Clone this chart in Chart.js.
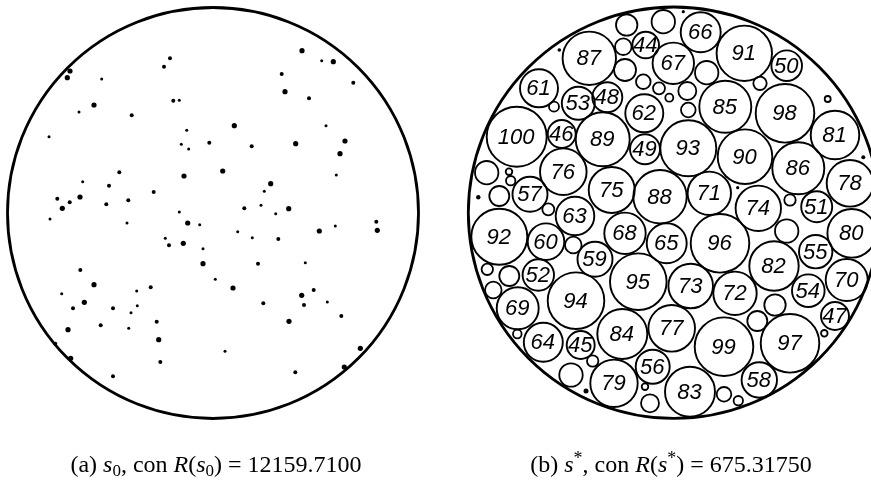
<!DOCTYPE html>
<html><head><meta charset="utf-8">
<script src="https://cdn.jsdelivr.net/npm/chart.js@4"></script>
<style>html,body{margin:0;padding:0;background:#fff}#wrap{width:871px;height:489px;position:relative}</style>
</head><body><div id="wrap"><canvas id="c"></canvas></div>
<script>
// Container circles (a) and (b)
const containerX = [213, 674];
const containerY = [213, 212.7];
const containerR = [205.5, 205.7];

// (a) initial solution s0: tiny circles
const dotX = [302,321.7,333.3,170,164,70,67.3,101.7,281.7,353.3,285,309,173.3,179.3,94,79,131.7,234.3,326,49,186.7,209.3,181.3,188.7,251.7,295.7,345,340,119.3,184,222.7,336.3,82.7,109,270.7,153.7,264.3,57.3,69.7,80,62.3,106.3,128.3,50,179.3,244.3,261,275.7,288.7,127,187.7,199.7,376.3,377.3,319.3,335.3,237.7,165.3,169,183.3,252.3,278.3,203,203,258,305.3,80.3,94,150.7,233,215.3,61.7,136.7,301.7,313.7,84.3,73,137.3,113,263.3,304,327.3,131,156.7,289,341.3,100.7,68,128.7,158.7,55.3,70.7,360.3,225,160.3,344.3,113,295.3];
const dotY = [50.7,60.7,61.7,58.3,66.7,71,77.7,79,74,82.7,91.7,98.3,100.7,100.3,105,112,115.3,125.7,125.7,136.7,130.3,142.7,144.3,149,146.3,143.7,141,153.7,172.3,176,171,175,181.7,185.7,183.7,192,191.3,198.7,202.3,197,208.3,204.3,200.3,219,212,208.3,205.3,213.7,208.7,223,223,224.7,221.7,230.3,231,226,231.7,238.3,245.3,243.3,237.7,239,248.7,263.7,263.7,262.7,270,284.7,287.3,288,279.3,293.7,291,295.3,290,302.3,308.3,305.7,308.3,303.3,305,302,312.7,321.7,321.3,316,325.3,329.7,328.3,339.7,343.7,358.3,348.3,351.3,362,367,376.3,372.3];
const dotR = [2.6,1.5,2.6,2,2,2.6,2.6,1.5,2,2,2.6,2,2,1.5,2.6,1.5,2,2.6,1.5,1.5,1.5,2,1.5,1.5,2,2.6,2.6,2.6,2,2.6,2.6,1.5,1.5,2,2.6,2,1.5,2,2,2.6,2.6,2,2,1.5,1.5,2,1.5,1.5,2.6,1.5,2.6,1.5,2,2.6,2.6,1.5,1.5,1.5,2,2.6,1.5,2,1.5,2.6,2,1.5,2,2.6,2,2.6,1.5,1.5,1.5,2.6,2,2.6,2,1.5,2,2,2,1.5,1.5,2,2.6,2,2,2.6,1.5,2.6,2,2.6,2.6,1.5,2,2.6,2,2];

// (b) final solution s*: numbered circles
const circleLabels = [44,45,46,47,48,49,50,51,52,53,54,55,56,57,58,59,60,61,62,63,64,65,66,67,68,69,70,71,72,73,74,75,76,77,78,79,80,81,82,83,84,85,86,87,88,89,90,91,92,93,94,95,96,97,98,99,100];
const circleX = [645.7,580.7,561.7,835,607.3,645,786.7,816.7,538.3,578.3,808.3,815.7,652.7,530,759.3,595,546,539,644.3,575,543.3,666.7,700.7,673.3,625,517.7,846.7,709.3,735,690.7,758.3,611.7,563.3,671.7,850,614,851.7,835,774,690,622.3,725.3,798.3,589.3,660,602.7,745,744.3,499.3,688.3,576,638.3,720,790,785,724,516.7];
const circleY = [45,345,134,316,97.3,149.3,65.7,206.7,275,103.3,290.7,251.7,366.7,194.3,380,259.3,241.7,88.3,113.3,216,342.3,243.3,32.3,63.3,233.3,308.3,280,193.3,293.3,286,208.3,190,171.7,328.3,183.3,383.3,233.3,135,266,391.7,334,106.7,168.3,58.3,196.7,139.3,156.7,53.3,236.7,148.3,300.7,281.7,243.3,343.3,113.3,346.7,136.7];
const circleR = [13.3,14,14,14,15,15,15.3,15.5,15.7,16.5,16.3,16.7,17,17.5,17.7,17.5,18.3,19,19,19.3,19.5,20,20,20.7,20.7,21,21,21.7,21.7,22.3,22.7,23,23.3,23.3,23.3,23.7,24.3,24.3,24.7,25,25,26,26,26.7,26.7,27,27.3,27.7,28,28,28.3,28.3,29.3,29.3,29.3,29.3,30];

// (b) unnumbered small circles
const smallX = [663.3,626.7,623.3,625,643.3,659,669.3,554,486.7,509,510.7,499.3,548.3,706.7,687.3,760,688.3,827.7,790,573.3,487.3,509.3,493.3,517.3,592.7,571,645,650,786.7,775,757.3,824.3,724,738.3];
const smallY = [21.7,25,46.7,70,81.7,88.3,97.7,106.7,172.7,171.7,180.7,196,209.3,72.7,91,83.3,110,99,200,245,269.3,276,290,334,361,375,386.7,403.3,231,305,321,333.3,394.3,400.7];
const smallR = [11.7,10.7,8.3,11,7.3,6,4,5,11.7,3.3,4.7,10,6,11.7,9,6.7,7.3,3,5.7,8.3,5.7,10,8.3,4.3,5.7,11.7,3.3,9,11.7,10.7,10,3.3,7.3,4.7];

// (b) tiniest circles (appear as dots)
const tinyX = [559.3,683.3,863.3,737.7,478.3,586];
const tinyY = [50,11.7,157.3,187.7,197.3,391];
const tinyR = [1.8,1.6,2,1.6,2.2,2.5];

const captionA = [["(a) ","r"],["s","i"],["0","sub"],[", con ","r"],["R","i"],["(","r"],["s","i"],["0","sub"],[")","r"],[" = ","r"],["12159.7100","r"]];
const captionB = [["(b) ","r"],["s","i"],["*","sup"],[", con ","r"],["R","i"],["(","r"],["s","i"],["*","sup"],[")","r"],[" = ","r"],["675.31750","r"]];
const captionCenters = [216, 671];
const captionBaseline = 472;

function pts(xs, ys){ return xs.map((x,i)=>({x:x, y:ys[i]})); }
function radiusFrom(arr){
  return ctx => {
    const s = ctx.chart.scales && ctx.chart.scales.x;
    const d = ctx.dataset.data[ctx.dataIndex];
    if (!s || !d) return 0;
    return Math.abs(s.getPixelForValue(d.x + arr[ctx.dataIndex]) - s.getPixelForValue(d.x));
  };
}

const labelPlugin = {
  id: 'labels',
  afterDatasetsDraw(chart){
    const c = chart.ctx, sx = chart.scales.x, sy = chart.scales.y;
    c.save();
    c.fillStyle = '#000';
    c.font = 'italic 22px "Liberation Sans", Arial, sans-serif';
    c.textAlign = 'center';
    c.textBaseline = 'middle';
    circleLabels.forEach((lab,i)=>{
      c.fillText(String(lab), sx.getPixelForValue(circleX[i]) - 0.5, sy.getPixelForValue(circleY[i]) + 1);
    });
    c.restore();
  },
  afterDraw(chart){
    const c = chart.ctx;
    const fs = 24;
    const fonts = {
      r: fs + 'px "Liberation Serif", "Times New Roman", serif',
      i: 'italic ' + fs + 'px "Liberation Serif", "Times New Roman", serif',
      sub: Math.round(fs*0.7) + 'px "Liberation Serif", serif',
      sup: Math.round(fs*0.75) + 'px "Liberation Serif", serif'
    };
    function segW(s){ c.font = fonts[s[1]]; return c.measureText(s[0]).width; }
    c.save();
    c.fillStyle = '#000';
    c.textBaseline = 'alphabetic';
    c.textAlign = 'left';
    [captionA, captionB].forEach((cap, k) => {
      const total = cap.reduce((a,s)=>a+segW(s),0);
      let x = captionCenters[k] - total/2;
      cap.forEach(s => {
        c.font = fonts[s[1]];
        let y = captionBaseline;
        if (s[1]==='sub') y += 4;
        if (s[1]==='sup') y -= 8;
        c.fillText(s[0], x, y);
        x += c.measureText(s[0]).width;
      });
    });
    c.restore();
  }
};

new Chart(document.getElementById('c'), {
  type: 'scatter',
  data: {
    datasets: [
      { data: pts(containerX, containerY), pointRadius: radiusFrom(containerR), pointBorderWidth: 2.8, pointBorderColor: '#000', pointBackgroundColor: 'rgba(0,0,0,0)' },
      { data: pts(dotX, dotY), pointRadius: radiusFrom(dotR), pointBorderWidth: 0, pointBorderColor: '#000', pointBackgroundColor: '#000' },
      { data: pts(circleX, circleY), pointRadius: radiusFrom(circleR), pointBorderWidth: 1.9, pointBorderColor: '#000', pointBackgroundColor: 'rgba(255,255,255,0)' },
      { data: pts(smallX, smallY), pointRadius: radiusFrom(smallR), pointBorderWidth: 1.8, pointBorderColor: '#000', pointBackgroundColor: 'rgba(255,255,255,0)' },
      { data: pts(tinyX, tinyY), pointRadius: radiusFrom(tinyR), pointBorderWidth: 0, pointBorderColor: '#000', pointBackgroundColor: '#000' }
    ]
  },
  options: {
    responsive: true,
    maintainAspectRatio: false,
    animation: false,
    events: [],
    layout: { padding: 0 },
    plugins: { legend: { display: false }, tooltip: { enabled: false } },
    scales: {
      x: { type: 'linear', min: 0, max: 871, display: false },
      y: { type: 'linear', min: 0, max: 489, reverse: true, display: false }
    }
  },
  plugins: [labelPlugin]
});
</script>
</body></html>
